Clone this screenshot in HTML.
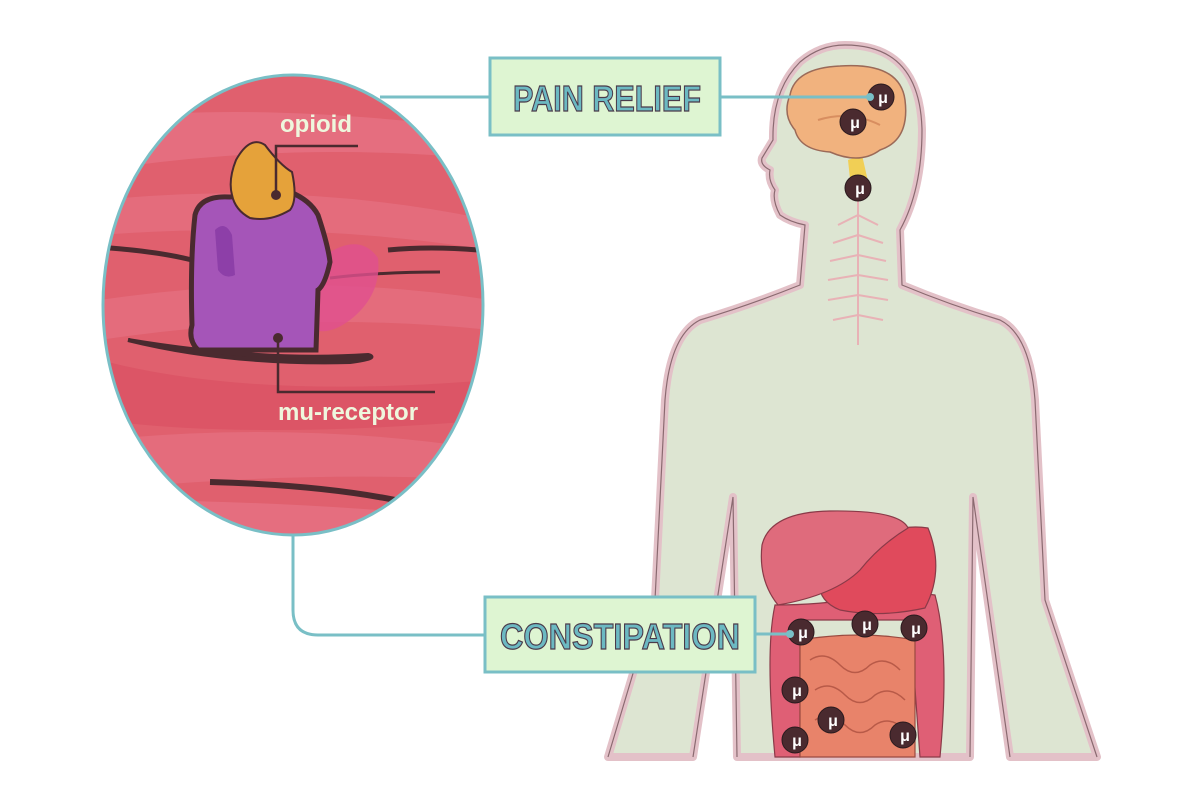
<!DOCTYPE html>
<html><head><meta charset="utf-8"><style>
html,body{margin:0;padding:0;background:#fff;width:1200px;height:800px;overflow:hidden}
svg{display:block}
text{font-family:"Liberation Sans",sans-serif;font-weight:bold}
</style></head><body>
<svg width="1200" height="800" viewBox="0 0 1200 800" xmlns="http://www.w3.org/2000/svg">
<defs>
<clipPath id="ov"><ellipse cx="293" cy="305" rx="190" ry="230"/></clipPath>
</defs>
<!-- body -->
<path d="M845 45 Q920 45 922 130 Q922 190 900 230 L902 285 Q950 305 1000 320 Q1030 335 1035 400 L1045 600 L1097 757 L1010 757 L973 497 L970 757 L737 757 L733 497 L693 757 L608 757 L655 600 L665 400 Q670 335 700 320 Q750 305 800 285 L805 225 Q790 222 780 215 Q772 200 775 190 Q768 180 770 170 Q760 165 762 158 L773 140 Q772 90 800 62 Q820 45 845 45Z" fill="#dde5d2" stroke="#e3c1c8" stroke-width="8" stroke-linejoin="round"/>
<path d="M845 45 Q920 45 922 130 Q922 190 900 230 L902 285 Q950 305 1000 320 Q1030 335 1035 400 L1045 600 L1097 757 M1010 757 L973 497 L970 757 M737 757 L733 497 L693 757 M608 757 L655 600 L665 400 Q670 335 700 320 Q750 305 800 285 L805 225 Q790 222 780 215 Q772 200 775 190 Q768 180 770 170 Q760 165 762 158 L773 140 Q772 90 800 62 Q820 45 845 45" fill="none" stroke="#8a6a70" stroke-width="1.2"/>
<!-- nerves -->
<g stroke="#e8b2b6" stroke-width="2" fill="none">
<path d="M858 190 V345"/>
<path d="M858 215 l-20 10 M858 215 l20 10 M858 235 l-25 8 M858 235 l25 8 M858 255 l-28 6 M858 255 l28 6 M858 275 l-30 5 M858 275 l30 5 M858 295 l-30 5 M858 295 l30 5 M858 315 l-25 5 M858 315 l25 5"/>
</g>
<!-- brain -->
<path d="M862 155 L870 190 L852 198 L848 160Z" fill="#f1cf55"/>
<path d="M790 95 Q795 68 840 66 Q900 62 905 100 Q910 140 880 150 Q860 165 830 152 Q800 150 795 130 Q782 115 790 95Z" fill="#f1b27e" stroke="#9b6a58" stroke-width="1.5"/>
<path d="M818 120 Q850 110 880 125" stroke="#d88e60" stroke-width="2" fill="none"/>
<!-- organs -->
<path d="M775 605 Q765 650 775 757 L800 757 L800 620 L910 620 L920 757 L940 757 Q950 650 935 595 Q900 590 860 598 Q820 605 775 605Z" fill="#df5f75" stroke="#8a3a48" stroke-width="1.2"/>
<path d="M800 640 Q860 630 915 640 L915 757 L800 757Z" fill="#e8836a" stroke="#9a4a40" stroke-width="1.2"/>
<path d="M810 660 q15 -10 30 5 q15 15 30 0 q15 -10 30 5 M815 690 q15 -10 30 5 q15 15 30 0 q15 -10 30 5 M815 720 q15 -10 30 5 q15 15 30 0 q15 -10 30 5" stroke="#b85a48" stroke-width="1.5" fill="none"/>
<path d="M820 575 Q880 520 928 528 Q945 570 925 608 Q880 618 840 610 Q815 600 820 575Z" fill="#e04a5c" stroke="#8a3a48" stroke-width="1.2"/>
<path d="M762 545 Q770 512 830 511 Q900 510 908 528 Q880 545 860 570 Q835 595 778 605 Q758 580 762 545Z" fill="#df6b7c" stroke="#8a3a48" stroke-width="1.2"/>

<!-- connectors -->
<path d="M380 97 H490" stroke="#79bfc6" stroke-width="3" fill="none"/>
<path d="M720 97 H876" stroke="#79bfc6" stroke-width="3" fill="none"/>
<path d="M293 535 V610 Q293 635 318 635 H485" stroke="#79bfc6" stroke-width="3" fill="none"/>
<path d="M755 634 H795" stroke="#79bfc6" stroke-width="3" fill="none"/>

<!-- magnified circle -->
<g clip-path="url(#ov)">
<rect x="100" y="70" width="390" height="470" fill="#e0606e"/>
<path d="M100 120 Q250 100 490 130 V160 Q300 140 100 170Z" fill="#e8788a" opacity=".6"/>
<path d="M100 200 Q300 180 490 220 V250 Q300 220 100 235Z" fill="#e8788a" opacity=".5"/>
<path d="M100 300 Q300 270 490 300 V330 Q300 310 100 340Z" fill="#e8788a" opacity=".5"/>
<path d="M100 360 Q250 400 490 380 V420 Q250 440 100 420Z" fill="#d84f60" opacity=".6"/>
<path d="M100 440 Q300 420 490 450 V480 Q300 470 100 490Z" fill="#e8788a" opacity=".5"/>
<path d="M100 500 Q300 500 490 520 V540 H100Z" fill="#e8788a" opacity=".6"/>
<path d="M110 248 Q160 252 192 260" stroke="#4a2a2f" stroke-width="5" fill="none"/>
<path d="M388 250 Q430 246 478 250" stroke="#4a2a2f" stroke-width="5" fill="none"/>
<path d="M330 278 Q380 272 440 272" stroke="#4a2a2f" stroke-width="3" fill="none"/>
<path d="M128 340 Q230 365 350 362 Q380 358 368 355 Q260 362 128 340Z" stroke="#4a2a2f" stroke-width="4" fill="#4a2a2f"/>
<path d="M210 482 Q320 485 395 500" stroke="#4a2a2f" stroke-width="6" fill="none"/>
<path d="M325 255 Q360 232 378 258 Q382 295 350 320 Q330 335 315 330Z" fill="#e0508e" opacity=".8"/>
<path d="M195 215 Q200 195 230 197 L290 192 Q310 200 318 215 Q328 245 330 262 Q325 285 318 290 L316 350 L198 350 Q188 340 192 325 Q190 260 195 215Z" fill="#a555b8" stroke="#4a2a2f" stroke-width="5"/>
<path d="M215 230 Q225 220 232 235 L235 275 Q225 280 218 270Z" fill="#8d3fa8"/>
<path d="M236 160 Q250 135 265 145 Q280 165 292 172 Q298 200 290 210 Q270 222 250 218 Q235 210 232 195 Q228 180 236 160Z" fill="#e5a23a" stroke="#4a2a2f" stroke-width="2"/>
</g>
<ellipse cx="293" cy="305" rx="190" ry="230" fill="none" stroke="#79bfc6" stroke-width="3"/>
<path d="M276 193 V146 H358" stroke="#4a2a2f" stroke-width="2.5" fill="none"/>
<circle cx="276" cy="195" r="5" fill="#4a2a2f"/>
<path d="M278 338 V392 H435" stroke="#4a2a2f" stroke-width="2.5" fill="none"/>
<circle cx="278" cy="338" r="5" fill="#4a2a2f"/>
<text x="280" y="132" font-size="24" fill="#eef7dd">opioid</text>
<text x="278" y="420" font-size="24" fill="#eef7dd">mu-receptor</text>

<!-- labels -->
<rect x="490" y="58" width="230" height="77" fill="#def5d2" stroke="#79bfc6" stroke-width="3"/>
<text x="513" y="111" font-size="36" fill="#6cb9c2" stroke="#4a3a4a" stroke-width="1.2" textLength="188" lengthAdjust="spacingAndGlyphs">PAIN RELIEF</text>
<rect x="485" y="597" width="270" height="75" fill="#def5d2" stroke="#79bfc6" stroke-width="3"/>
<text x="500" y="649" font-size="36" fill="#6cb9c2" stroke="#4a3a4a" stroke-width="1.2" textLength="240" lengthAdjust="spacingAndGlyphs">CONSTIPATION</text>

<!-- mu markers -->
<g fill="#4a2a2f" stroke="#2a1a1e" stroke-width="1">
<circle cx="881" cy="97" r="13"/><circle cx="853" cy="122" r="13"/><circle cx="858" cy="188" r="13"/>
<circle cx="801" cy="632" r="13"/><circle cx="865" cy="624" r="13"/><circle cx="914" cy="628" r="13"/>
<circle cx="795" cy="690" r="13"/><circle cx="831" cy="720" r="13"/><circle cx="795" cy="740" r="13"/><circle cx="903" cy="735" r="13"/>
</g>
<g fill="#fff" font-size="16" text-anchor="middle">
<text x="883" y="103">μ</text><text x="855" y="128">μ</text><text x="860" y="194">μ</text>
<text x="803" y="638">μ</text><text x="867" y="630">μ</text><text x="916" y="634">μ</text>
<text x="797" y="696">μ</text><text x="833" y="726">μ</text><text x="797" y="746">μ</text><text x="905" y="741">μ</text>
</g>
<circle cx="870" cy="97" r="4" fill="#79bfc6"/>
<circle cx="790" cy="634" r="4" fill="#79bfc6"/>
</svg>
</body></html>
